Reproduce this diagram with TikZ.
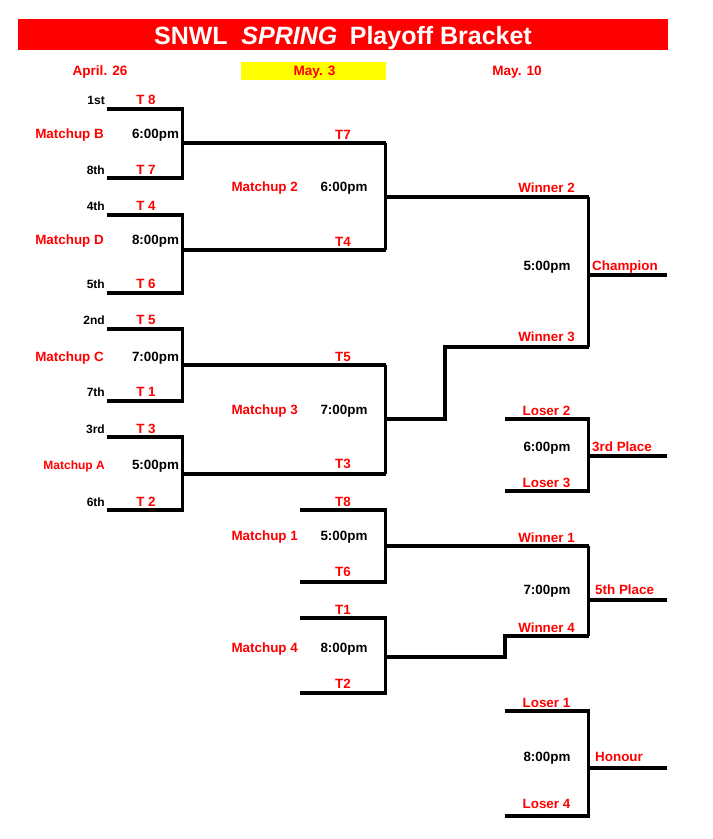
\documentclass[tikz,border=0pt]{standalone}
\usepackage{fontspec}
\setmainfont{Liberation Sans}
\definecolor{rd}{RGB}{255,0,0}
\definecolor{yl}{RGB}{255,255,0}
\begin{document}
\begin{tikzpicture}[x=1pt,y=-1pt,
  br/.style={line width=3.1pt, line join=miter},
  tx/.style={font=\fontsize{13.4}{15}\selectfont\bfseries, inner sep=0pt, text height=9.6pt, text depth=0pt},
  sm/.style={font=\fontsize{12}{14}\selectfont\bfseries, inner sep=0pt, text height=8.6pt, text depth=0pt},
  rl/.style={tx, text=rd},
  bl/.style={tx, text=black},
  rk/.style={sm, text=black, anchor=east},
  ]
\useasboundingbox (0,0) rectangle (713,839);
% title
\fill[rd] (18,19) rectangle (668,50);
\node[font=\fontsize{25}{28}\selectfont\bfseries, text=white, inner sep=0pt, text height=18pt, text depth=0pt] (title) at (343,35) {SNWL\hspace{0.55em}\textit{SPRING}\hspace{0.5em}Playoff Bracket};
% dates
\fill[yl] (241,62) rectangle (385.5,79.5);
\node[rl, font=\fontsize{13.6}{15}\selectfont\bfseries] (d1) at (100,70.5) {April. 26};
\node[rl, font=\fontsize{13.6}{15}\selectfont\bfseries] (d2) at (314.5,70.5) {May. 3};
\node[rl, font=\fontsize{13.6}{15}\selectfont\bfseries] (d3) at (517,70.5) {May. 10};

% ---------- coordinates ----------
% round 1
\coordinate (b1) at (107,109); \coordinate (b2) at (107,178); \coordinate (bx) at (182.5,143);
\coordinate (dd1) at (107,215); \coordinate (dd2) at (107,293); \coordinate (dx) at (182.5,250);
\coordinate (c1) at (107,329); \coordinate (c2) at (107,401); \coordinate (cx) at (182.5,365);
\coordinate (a1) at (107,437); \coordinate (a2) at (107,510); \coordinate (ax) at (182.5,474);
% round 2
\coordinate (m2x) at (385.5,197); \coordinate (m3x) at (385.5,419);
\coordinate (m1a) at (300,510); \coordinate (m1b) at (300,582); \coordinate (m1x) at (385.5,546);
\coordinate (m4a) at (300,618); \coordinate (m4b) at (300,693); \coordinate (m4x) at (385.5,657);
\coordinate (s3) at (445,347); \coordinate (s4) at (505,636);
% round 3
\coordinate (chx) at (588.5,275); \coordinate (che) at (667,275);
\coordinate (l2) at (505,419); \coordinate (l3) at (505,491); \coordinate (thx) at (588.5,456); \coordinate (the) at (667,456);
\coordinate (w1) at (588.5,546); \coordinate (fix) at (588.5,600); \coordinate (fie) at (667,600);
\coordinate (l1) at (505,711); \coordinate (l4) at (505,816); \coordinate (hox) at (588.5,768); \coordinate (hoe) at (667,768);

% ---------- lines ----------
\draw[br] (b1) -| (bx |- b2) -- (b2);  \draw[br] (bx) -- (m2x |- bx);
\draw[br] (dd1) -| (dx |- dd2) -- (dd2); \draw[br] (dx) -- (m2x |- dx);
\draw[br] (c1) -| (cx |- c2) -- (c2);  \draw[br] (cx) -- (m3x |- cx);
\draw[br] (a1) -| (ax |- a2) -- (a2);  \draw[br] (ax) -- (m3x |- ax);
\draw[br] (m2x |- bx) -- (m2x |- dx);  \draw[br] (m2x) -- (chx |- m2x);
\draw[br] (m3x |- cx) -- (m3x |- ax);  \draw[br] (m3x) -| (s3) -- (chx |- s3);
\draw[br] (chx |- m2x) -- (chx |- s3); \draw[br] (chx) -- (che);
\draw[br] (m1a) -| (m1x |- m1b) -- (m1b); \draw[br] (m1x) -- (w1);
\draw[br] (m4a) -| (m4x |- m4b) -- (m4b); \draw[br] (m4x) -| (s4) -- (fix |- s4);
\draw[br] (w1) -- (fix |- s4); \draw[br] (fix) -- (fie);
\draw[br] (l2) -| (thx |- l3) -- (l3); \draw[br] (thx) -- (the);
\draw[br] (l1) -| (hox |- l4) -- (l4); \draw[br] (hox) -- (hoe);

% ---------- round 1 texts ----------
\node[rk] (r1) at (105,100) {1st};  \node[rl] (t8) at (146,100) {T 8};
\node[rk] (r8) at (105,170) {8th};  \node[rl] (t7) at (146,170) {T 7};
\node[rk] (r4) at (105,206) {4th};  \node[rl] (t4) at (146,206) {T 4};
\node[rk] (r5) at (105,284) {5th};  \node[rl] (t6) at (146,284) {T 6};
\node[rk] (r2) at (105,320) {2nd};  \node[rl] (t5) at (146,320) {T 5};
\node[rk] (r7) at (105,392) {7th};  \node[rl] (t1) at (146,392) {T 1};
\node[rk] (r3) at (105,429) {3rd};  \node[rl] (t3) at (146,429) {T 3};
\node[rk] (r6) at (105,502) {6th};  \node[rl] (t2) at (146,502) {T 2};
\node[rl, anchor=east] (mb) at (104,134) {Matchup B}; \node[bl] (tb) at (155.5,134) {6:00pm};
\node[rl, anchor=east] (md) at (104,240) {Matchup D}; \node[bl] (td) at (155.5,240) {8:00pm};
\node[rl, anchor=east] (mc) at (104,357) {Matchup C}; \node[bl] (tc) at (155.5,357) {7:00pm};
\node[sm, text=rd, anchor=east] (ma) at (105,465) {Matchup A}; \node[bl] (ta) at (155.5,465) {5:00pm};

% ---------- round 2 texts ----------
\node[rl] (u7) at (343,135) {T7};
\node[rl] (u4) at (343,242) {T4};
\node[rl] (u5) at (343,357) {T5};
\node[rl] (u3) at (343,464) {T3};
\node[rl] (u8) at (343,502) {T8};
\node[rl] (u6) at (343,572) {T6};
\node[rl] (u1) at (343,610) {T1};
\node[rl] (u2) at (343,684) {T2};
\node[rl, anchor=east] (mt2) at (298,187) {Matchup 2}; \node[bl] (tt2) at (344,187) {6:00pm};
\node[rl, anchor=east] (mt3) at (298,410) {Matchup 3}; \node[bl] (tt3) at (344,410) {7:00pm};
\node[rl, anchor=east] (mt1) at (298,536) {Matchup 1}; \node[bl] (tt1) at (344,536) {5:00pm};
\node[rl, anchor=east] (mt4) at (298,648) {Matchup 4}; \node[bl] (tt4) at (344,648) {8:00pm};

% ---------- round 3 texts ----------
\node[rl] (wn2) at (546.5,188) {Winner 2};
\node[rl] (wn3) at (546.5,337) {Winner 3};
\node[rl] (ls2) at (546.5,411) {Loser 2};
\node[rl] (ls3) at (546.5,483) {Loser 3};
\node[rl] (wn1) at (546.5,538) {Winner 1};
\node[rl] (wn4) at (546.5,628) {Winner 4};
\node[rl] (ls1) at (546.5,703) {Loser 1};
\node[rl] (ls4) at (546.5,804) {Loser 4};
\node[bl] (g1) at (547,266) {5:00pm};
\node[bl] (g2) at (547,447) {6:00pm};
\node[bl] (g3) at (547,590) {7:00pm};
\node[bl] (g4) at (547,757) {8:00pm};
\node[rl, anchor=west] (champ) at (592,266) {Champion};
\node[rl, anchor=west] (third) at (592,447) {3rd Place};
\node[rl, anchor=west] (fifth) at (595,590) {5th Place};
\node[rl, anchor=west] (hon) at (595,757) {Honour};
\end{tikzpicture}
\end{document}
